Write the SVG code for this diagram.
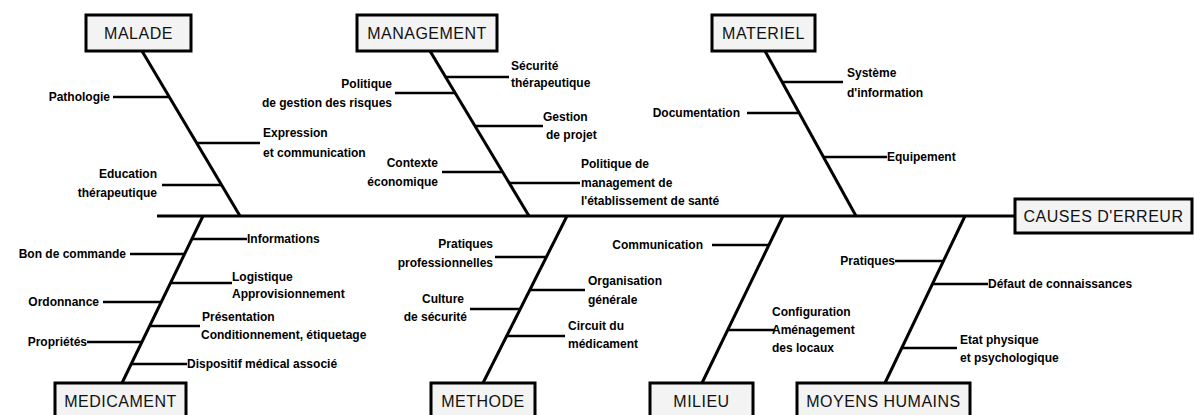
<svg xmlns="http://www.w3.org/2000/svg" width="1194" height="415" viewBox="0 0 1194 415">
<style>
.box{fill:#f3f3f3;stroke:#000;stroke-width:3}
.bt{font-family:"Liberation Sans",Arial,sans-serif;font-size:16px;fill:#111;text-anchor:middle;letter-spacing:0.5px}
.lb{font-family:"Liberation Sans",Arial,sans-serif;font-size:12px;font-weight:bold;fill:#000}
.e{text-anchor:end}
.spine{stroke:#000;stroke-width:3;fill:none}
.diag{stroke:#000;stroke-width:3;fill:none}
.br{stroke:#000;stroke-width:2.5;fill:none}
</style>
<rect width="1194" height="415" fill="#fff"/>
<g id="connectors">
<line class="spine" x1="157" y1="216" x2="1015" y2="216"/>
<line class="diag" x1="142" y1="51" x2="240" y2="216"/>
<line class="diag" x1="430" y1="51" x2="529" y2="216"/>
<line class="diag" x1="765" y1="51" x2="856" y2="216"/>
<line class="diag" x1="203" y1="216" x2="122" y2="383"/>
<line class="diag" x1="567" y1="216" x2="483" y2="383"/>
<line class="diag" x1="783" y1="216" x2="702" y2="383"/>
<line class="diag" x1="965" y1="216" x2="885" y2="383"/>
<!-- malade branches -->
<line class="br" x1="113" y1="97" x2="169" y2="97"/>
<line class="br" x1="197" y1="143" x2="260" y2="143"/>
<line class="br" x1="162" y1="185" x2="222" y2="185"/>
<!-- management branches -->
<line class="br" x1="446" y1="77" x2="509" y2="77"/>
<line class="br" x1="395" y1="93" x2="455" y2="93"/>
<line class="br" x1="475" y1="126" x2="543" y2="126"/>
<line class="br" x1="442" y1="172" x2="503" y2="172"/>
<line class="br" x1="509" y1="183" x2="580" y2="183"/>
<!-- materiel branches -->
<line class="br" x1="782" y1="82" x2="843" y2="82"/>
<line class="br" x1="747" y1="113" x2="799" y2="113"/>
<line class="br" x1="824" y1="157" x2="887" y2="157"/>
<!-- medicament branches -->
<line class="br" x1="192" y1="239" x2="247" y2="239"/>
<line class="br" x1="130" y1="254" x2="185" y2="254"/>
<line class="br" x1="171" y1="283" x2="232" y2="283"/>
<line class="br" x1="103" y1="302" x2="161" y2="302"/>
<line class="br" x1="150" y1="326" x2="200" y2="326"/>
<line class="br" x1="87" y1="342" x2="142" y2="342"/>
<line class="br" x1="131" y1="364" x2="187" y2="364"/>
<!-- methode branches -->
<line class="br" x1="495" y1="257" x2="547" y2="257"/>
<line class="br" x1="530" y1="290" x2="585" y2="290"/>
<line class="br" x1="470" y1="309" x2="521" y2="309"/>
<line class="br" x1="507" y1="336" x2="565" y2="336"/>
<!-- milieu branches -->
<line class="br" x1="712" y1="245" x2="769" y2="245"/>
<line class="br" x1="728" y1="330" x2="775" y2="330"/>
<!-- moyens humains branches -->
<line class="br" x1="895" y1="261" x2="944" y2="261"/>
<line class="br" x1="932" y1="284" x2="988" y2="284"/>
<line class="br" x1="902" y1="348" x2="957" y2="348"/>
</g>
<g id="malade">
<rect class="box" x="86" y="15" width="105" height="36"/>
<text class="bt" x="138.5" y="39">MALADE</text>
<text class="lb e" x="110" y="101">Pathologie</text>
<text class="lb" x="263" y="137">Expression</text>
<text class="lb" x="263" y="157">et communication</text>
<text class="lb e" x="157" y="178">Education</text>
<text class="lb e" x="157" y="197">thérapeutique</text>
</g>
<g id="management">
<rect class="box" x="357" y="15" width="140" height="36"/>
<text class="bt" x="427" y="39">MANAGEMENT</text>
<text class="lb" x="511" y="70">Sécurité</text>
<text class="lb" x="511" y="87">thérapeutique</text>
<text class="lb e" x="392" y="88">Politique</text>
<text class="lb e" x="392" y="107">de gestion des risques</text>
<text class="lb" x="543" y="121">Gestion</text>
<text class="lb" x="546" y="139">de projet</text>
<text class="lb e" x="438" y="167">Contexte</text>
<text class="lb e" x="438" y="186">économique</text>
<text class="lb" x="581" y="168">Politique de</text>
<text class="lb" x="581" y="187">management de</text>
<text class="lb" x="581" y="205">l'établissement de santé</text>
</g>
<g id="materiel">
<rect class="box" x="712" y="15" width="103" height="36"/>
<text class="bt" x="763.5" y="39">MATERIEL</text>
<text class="lb" x="847" y="77">Système</text>
<text class="lb" x="847" y="97">d'information</text>
<text class="lb e" x="740" y="117">Documentation</text>
<text class="lb" x="887" y="161">Equipement</text>
</g>
<g id="causes">
<rect class="box" x="1015" y="199" width="177" height="34"/>
<text class="bt" x="1103.5" y="222">CAUSES D'ERREUR</text>
</g>
<g id="medicament">
<rect class="box" x="55" y="383" width="131" height="40"/>
<text class="bt" x="120.5" y="407">MEDICAMENT</text>
<text class="lb" x="247" y="243">Informations</text>
<text class="lb e" x="126" y="258">Bon de commande</text>
<text class="lb" x="232" y="281">Logistique</text>
<text class="lb" x="232" y="298">Approvisionnement</text>
<text class="lb e" x="99" y="306">Ordonnance</text>
<text class="lb" x="202" y="321">Présentation</text>
<text class="lb" x="201" y="339" font-size="11">Conditionnement, étiquetage</text>
<text class="lb e" x="87" y="346">Propriétés</text>
<text class="lb" x="187" y="368">Dispositif médical associé</text>
</g>
<g id="methode">
<rect class="box" x="431" y="383" width="104" height="40"/>
<text class="bt" x="483" y="407">METHODE</text>
<text class="lb e" x="493" y="248">Pratiques</text>
<text class="lb e" x="493" y="267">professionnelles</text>
<text class="lb" x="588" y="285">Organisation</text>
<text class="lb" x="588" y="304">générale</text>
<text class="lb e" x="464" y="303">Culture</text>
<text class="lb e" x="467" y="321">de sécurité</text>
<text class="lb" x="568" y="330">Circuit du</text>
<text class="lb" x="568" y="348">médicament</text>
</g>
<g id="milieu">
<rect class="box" x="650" y="383" width="103" height="40"/>
<text class="bt" x="701.5" y="407">MILIEU</text>
<text class="lb e" x="703" y="249">Communication</text>
<text class="lb" x="772" y="316">Configuration</text>
<text class="lb" x="772" y="334">Aménagement</text>
<text class="lb" x="772" y="352">des locaux</text>
</g>
<g id="moyens-humains">
<rect class="box" x="797" y="383" width="173" height="40"/>
<text class="bt" x="883.5" y="407">MOYENS HUMAINS</text>
<text class="lb e" x="895" y="265">Pratiques</text>
<text class="lb" x="988" y="288">Défaut de connaissances</text>
<text class="lb" x="960" y="344">Etat physique</text>
<text class="lb" x="960" y="362">et psychologique</text>
</g>
</svg>
